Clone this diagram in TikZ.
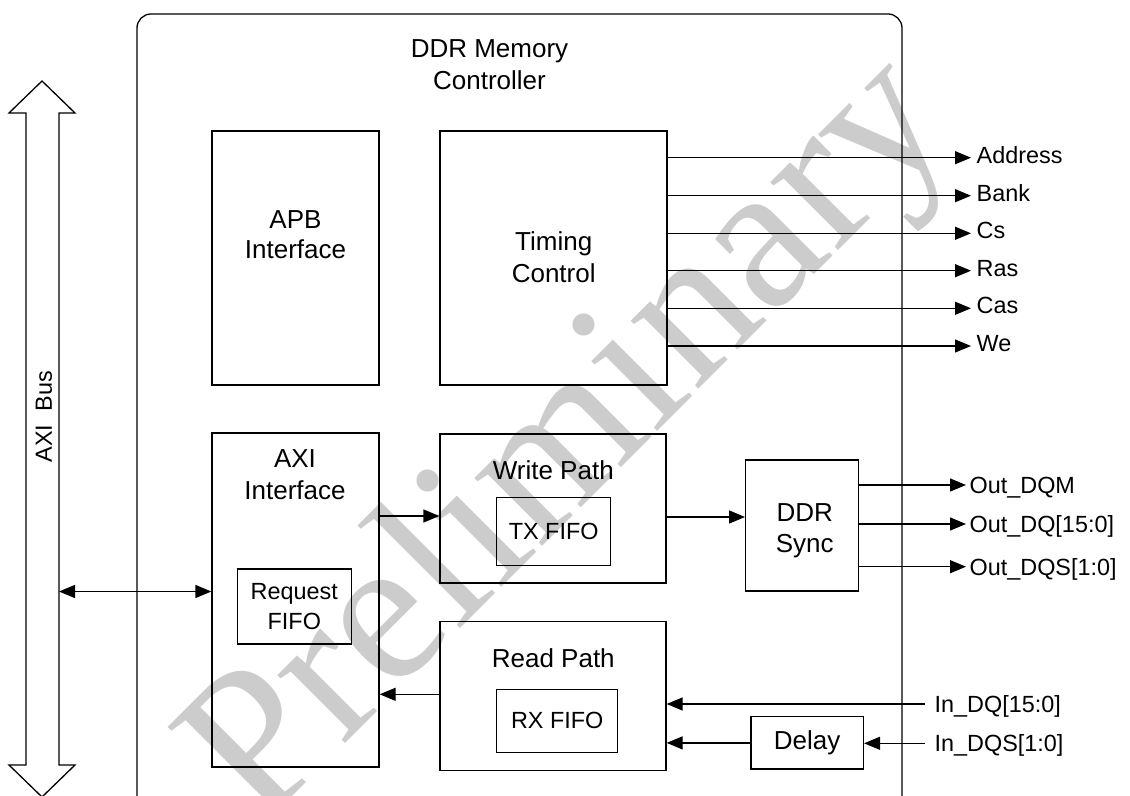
\documentclass[tikz,border=0pt]{standalone}
\usepackage{fontspec}
\setmainfont{Liberation Sans}
\newfontfamily\wmfont{Liberation Serif}
\usetikzlibrary{arrows.meta}
\begin{document}
\begin{tikzpicture}[x=0.5pt,y=-0.5pt, line width=0.65pt,
  blk/.style={draw, rectangle, inner sep=0pt},
  big/.style={font=\fontsize{13}{15.7}\selectfont, align=center, inner sep=0pt},
  sml/.style={font=\fontsize{11.7}{14.7}\selectfont, align=center},
  arr/.style={-{Triangle[length=8pt,width=6.5pt]}},
  darr/.style={{Triangle[length=8pt,width=6.5pt]}-{Triangle[length=8pt,width=6.5pt]}},
  sigA/.style={font=\fontsize{11.7}{14}\selectfont, anchor=west, inner xsep=2.5pt, inner ysep=0pt, text height=8.4pt, text depth=3pt},
  sigB/.style={font=\fontsize{11.7}{14}\selectfont, anchor=west, inner xsep=1.5pt, inner ysep=0pt, text height=8.4pt, text depth=0pt},
  sigC/.style={font=\fontsize{11.7}{14}\selectfont, anchor=west, inner xsep=4.5pt, inner ysep=0pt, text height=8.4pt, text depth=0pt}]
\useasboundingbox (0,0) rectangle (1130,796);
% watermark
\node[font=\wmfont\fontsize{104.5}{120}\selectfont, text=black!20, rotate=45, inner sep=0pt] (wm) at (574,444) {Preliminary};
% outer controller frame
\draw[rounded corners=7pt] (137,800) -- (137,14) -- (902,14) -- (902,800);
\node[big, font=\fontsize{13}{16.3}\selectfont] (title) at (489.5,64.5) {DDR Memory\\Controller};
% AXI bus arrow
\draw (26,765) -- (26,113) -- (9,113) -- (42,81) -- (75,113) -- (59,113) -- (59,765) -- (75,765) -- (42,797) -- (9,765) -- cycle;
\node[font=\fontsize{11.7}{14}\selectfont, rotate=90, inner sep=0pt, text height=8.4pt, text depth=0pt] (busl) at (43.4,416.7) {AXI\ \ Bus};
% blocks
\node[blk, minimum width=83.5pt, minimum height=127pt] (apb) at (295.5,258) {};
\node[blk, minimum width=113.5pt, minimum height=127pt] (tim) at (553.5,258) {};
\node[blk, minimum width=83.5pt, minimum height=167pt] (axi) at (295.5,600) {};
\node[blk, sml, minimum width=57pt, minimum height=37.5pt] (req) at (294.3,606.5) {Request\\FIFO};
\node[blk, minimum width=113pt, minimum height=74.5pt] (wr) at (553,508.5) {};
\node[blk, sml, minimum width=57pt, minimum height=34pt] (tx) at (553.7,531.7) {TX FIFO};
\node[blk, minimum width=113pt, minimum height=74.5pt] (rd) at (553,696.2) {};
\node[blk, sml, minimum width=60.5pt, minimum height=31.5pt] (rx) at (557.2,720.8) {RX FIFO};
\node[blk, minimum width=56.3pt, minimum height=65.5pt] (sync) at (802,525.5) {};
\node[blk, minimum width=56.2pt, minimum height=26.2pt, font=\fontsize{13}{15.7}\selectfont] (dly) at (807.2,742.9) {Delay};
% block titles
\node[big, font=\fontsize{13}{15.3}\selectfont] (apbt) at (295.5,234.5) {APB\\Interface};
\node[big, font=\fontsize{13}{16}\selectfont] (timt) at (553.7,257) {Timing\\Control};
\node[big, font=\fontsize{13}{15.9}\selectfont] (axit) at (295,475) {AXI\\Interface};
\node[big] (wrt) at (553.3,470.3) {Write Path};
\node[big] (rdt) at (553.3,658.3) {Read Path};
\node[big] (synct) at (804.7,530.5) {DDR\\Sync};
% timing outputs
\foreach \n/\y/\t in {adr/157.7/Address, bank/195.7/Bank, cs/233.3/Cs, ras/270.7/Ras, cas/308.3/Cas, we/346/We}{
  \node[sigA] (\n) at (971,\y) {\t};
  \draw[arr] (tim.east |- \n.west) -- (\n.west);
}
% DDR sync outputs
\node[sigB] (odqm) at (966,485) {Out\_DQM};
\node[sigB] (odq) at (966,524) {Out\_DQ[15:0]};
\node[sigB] (odqs) at (966,566.7) {Out\_DQS[1:0]};
\draw[arr] (sync.east |- odqm.west) -- (odqm.west);
\draw[arr] (sync.east |- odq.west) -- (odq.west);
\draw[arr] (sync.east |- odqs.west) -- (odqs.west);
% inputs
\node[sigC] (idq) at (925,704) {In\_DQ[15:0]};
\node[sigC] (idqs) at (925,743.3) {In\_DQS[1:0]};
\draw[arr] (idq.west) -- (rd.east |- idq.west);
\draw[arr] (idqs.west) -- (dly.east |- idqs.west);
\draw[arr] (dly.west) -- (rd.east |- dly.west);
% internal paths
\draw[arr] (rd.west |- 0,694.3) -- (axi.east |- 0,694.3);
\draw[arr] (axi.east |- 0,516) -- (wr.west |- 0,516);
\draw[arr] (wr.east |- 0,517) -- (sync.west |- 0,517);
\coordinate (busR) at (59,591.5);
\draw[darr] (busR) -- (axi.west |- busR);
\end{tikzpicture}
\end{document}
